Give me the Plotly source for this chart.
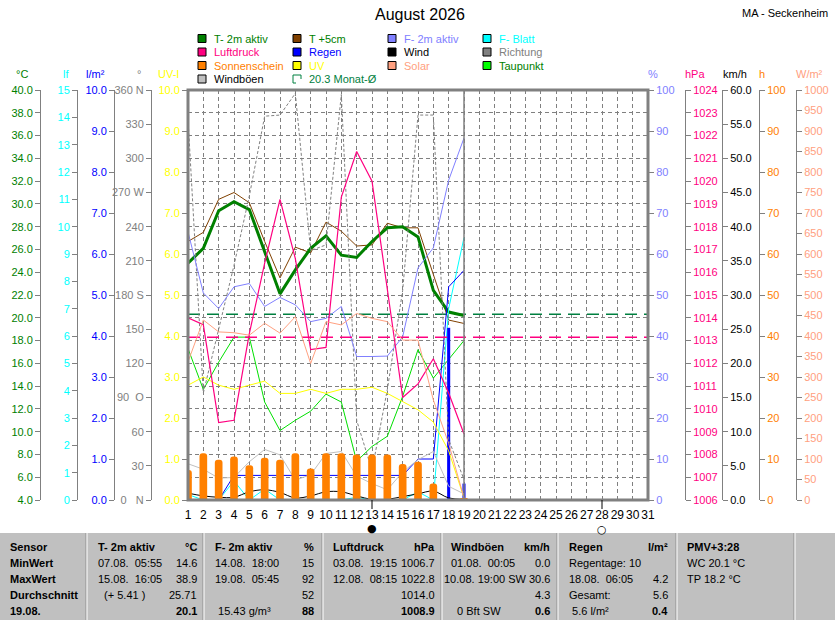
import plotly.graph_objects as go

W, H = 835, 620
def px(x): return x / W
def py(y): return 1 - y / H

FONT = "Liberation Sans, Arial, sans-serif"

# ---------------- data (days 1..19 of August 2026) ----------------
days = list(range(1, 20))
t2m = [24.8, 26.1, 29.4, 30.2, 29.5, 25.8, 22.1, 24.2, 26.1, 27.2, 25.5, 25.3, 26.7, 27.9, 28.0, 27.1, 22.4, 20.5, 20.2]
t5cm = [26.7, 27.5, 30.4, 31.0, 30.1, 26.7, 23.5, 26.2, 25.7, 28.4, 27.6, 26.3, 26.4, 28.3, 27.9, 27.9, 23.8, 19.8, 19.5]
hum = [65.4, 50.5, 46.7, 52.0, 52.8, 47.2, 49.4, 47.6, 43.5, 44.3, 47.2, 35.0, 35.0, 35.1, 39.8, 56.6, 61.5, 78.0, 88.3]
leaf = [0.2, 0.0, 0.0, 0.7, 0.0, 0.4, 0.0, 0.0, 0.0, 0.0, 0.0, 0.1, 0.0, 0.0, 0.0, 0.3, 0.0, 7.0, 9.6]
pressure = [1014.0, 1013.7, 1009.4, 1009.5, 1013.3, 1016.4, 1019.2, 1016.6, 1012.6, 1012.7, 1019.3, 1021.3, 1020.0, 1015.2, 1010.5, 1011.1, 1012.2, 1010.7, 1008.9]
rain_day = [0, 0, 0, 0.6, 0, 0, 0, 0, 0, 0, 0, 0, 0, 0, 0, 0.4, 0, 4.2, 0.4]
rain_sum = [0, 0, 0, 0.6, 0.6, 0.6, 0.6, 0.6, 0.6, 0.6, 0.6, 0.6, 0.6, 0.6, 0.6, 1.0, 1.0, 5.2, 5.6]
wind = [1.0, 0.6, 0.4, 0.4, 1.2, 1.5, 1.1, 0.3, 0.6, 1.2, 1.2, 0.6, 0.1, 0.1, 0.5, 0.9, 1.3, 0.3, 0.1]
gusts = [5.3, 4.5, 3.2, 3.3, 5.6, 7.4, 6.6, 2.9, 3.7, 6.8, 7.1, 3.5, 2.4, 1.5, 4.1, 5.9, 7.1, 2.0, 0.9]
direction = [335, 94, 150, 206, 267, 337, 338, 357, 219, 224, 356, 70, 26, 97, 184, 338, 338, 53, 18]
sunshine = [7.3, 11.4, 9.8, 10.6, 8.5, 10.3, 9.8, 11.4, 7.7, 11.4, 11.4, 11.1, 11.1, 11.1, 8.8, 9.3, 4.0, 0.0, 0.3]
uv = [2.8, 3.0, 2.8, 2.7, 2.8, 2.9, 2.6, 2.6, 2.7, 2.6, 2.7, 2.7, 2.75, 2.6, 2.4, 2.2, 1.9, 1.2, 0.05]
solar = [337, 439, 410, 408, 402, 431, 407, 447, 333, 435, 427, 455, 443, 435, 390, 390, 244, 138, 5]
dewpoint = [17.3, 13.7, 16.1, 18.3, 18.3, 12.6, 10.1, 11.0, 11.8, 13.3, 12.6, 7.4, 8.7, 9.6, 13.1, 17.2, 14.7, 16.3, 18.0]

month_mean_t = 20.3
ref_pressure = 1013.15
today = 19
new_moon_day = 13
full_moon_day = 28
x_days = list(range(1, 32))
dir_ticks = [0, 30, 60, 90, 120, 150, 180, 210, 240, 270, 300, 330, 360]
dir_labels = ["0   N", "30", "60", "90  O", "120", "150", "180 S", "210", "240", "270 W", "300", "330", "360 N"]

fig = go.Figure()

# sunshine bars (h axis)
fig.add_trace(go.Bar(x=days, y=sunshine, yaxis="y9", width=0.5,
                     marker=dict(color="#FF8000", line=dict(width=0), cornerradius=4)))
# rain daily bars
fig.add_trace(go.Bar(x=days, y=rain_day, yaxis="y3", width=0.2,
                     marker=dict(color="#0000FF", line=dict(width=0))))

def line(y, axis, color, width=1, dash=None, shape="linear"):
    fig.add_trace(go.Scatter(x=days, y=y, yaxis=axis, mode="lines",
                             line=dict(color=color, width=width, dash=dash, shape=shape)))

line(direction, "y4", "#808080", 1, "3px,2px")
line(gusts, "y8", "#C0C0C0", 1)
line(wind, "y8", "#000000", 1, None, "spline")
line(leaf, "y2", "#00FFFF", 1)
line(rain_sum, "y3", "#0000FF", 1)
line(solar, "y10", "#FFA080", 1)
line(uv, "y5", "#FFFF00", 1)
line(dewpoint, "y", "#00E000", 1)
line(hum, "y6", "#8080FF", 1)
line(pressure, "y7", "#FF0080", 1.2)
line(t5cm, "y", "#804000", 1)

# reference lines
fig.add_trace(go.Scatter(x=[x_days[0], x_days[-1]], y=[month_mean_t, month_mean_t], yaxis="y",
                         mode="lines", line=dict(color="#008040", width=1.5, dash="12px,7px")))
fig.add_trace(go.Scatter(x=[x_days[0], x_days[-1]], y=[ref_pressure, ref_pressure], yaxis="y7",
                         mode="lines", line=dict(color="#FF0080", width=1.5, dash="12px,7px")))
line(t2m, "y", "#008000", 3)

x0p, x1p = px(188), px(648)
y0p, y1p = py(500), py(90)

axes = [
    ("yaxis",   [4, 40],      2,  ".1f", "#008000", 40,  "left"),
    ("yaxis2",  [0, 15],      1,  "d",   "#00FFFF", 77,  "left"),
    ("yaxis3",  [0, 10],      1,  ".1f", "#0000FF", 114, "left"),
    ("yaxis4",  [0, 360],     30, None,  "#808080", 151, "left"),
    ("yaxis5",  [0, 10],      1,  ".1f", "#FFFF00", 187, "left"),
    ("yaxis6",  [0, 100],     10, "d",   "#8080FF", 648, "right"),
    ("yaxis7",  [1006, 1024], 1,  "d",   "#FF0080", 685, "right"),
    ("yaxis8",  [0, 60],      5,  ".1f", "#000000", 722, "right"),
    ("yaxis9",  [0, 100],     10, "d",   "#FF8000", 759, "right"),
    ("yaxis10", [0, 1000],    50, "d",   "#FFA080", 796, "right"),
]
layout_axes = {}
for name, rng, dt, fmt, col, pos, side in axes:
    a = dict(range=rng, domain=[y0p, y1p], anchor="free", position=px(pos), side=side,
             showline=True, linecolor="#808080", linewidth=1, ticks="outside", ticklen=5,
             tickcolor="#808080", tickfont=dict(family=FONT, size=11, color=col),
             zeroline=False, showgrid=False, fixedrange=True, automargin=False)
    if fmt is None:
        a.update(tickmode="array", tickvals=dir_ticks, ticktext=dir_labels)
    else:
        a.update(dtick=dt, tick0=rng[0], tickformat=fmt)
    if name != "yaxis":
        a["overlaying"] = "y"
    else:
        a.update(showgrid=True, gridcolor="#808080", griddash="4px,3px", gridwidth=1)
    layout_axes[name] = a

fig.update_layout(**layout_axes)
fig.update_layout(
    width=W, height=H, autosize=False,
    margin=dict(l=0, r=0, t=0, b=0, pad=0, autoexpand=False),
    paper_bgcolor="white", plot_bgcolor="white",
    showlegend=False, barmode="overlay",
    xaxis=dict(domain=[x0p, x1p], range=[1, 31], anchor="y", tickmode="array",
               tickvals=x_days, ticktext=[str(d) for d in x_days], ticks="",
               tickangle=0, ticklabelstandoff=6, automargin=False,
               tickfont=dict(family=FONT, size=12, color="black"),
               showgrid=True, gridcolor="#808080", griddash="4px,3px", gridwidth=1,
               zeroline=False, showline=False, fixedrange=True),
)

shapes = []
ann = []
# plot border
shapes.append(dict(type="rect", xref="x domain", yref="y domain", x0=0, x1=1, y0=0, y1=1,
                   line=dict(color="#808080", width=3), layer="above"))
# today line
shapes.append(dict(type="line", xref="x", yref="y domain", x0=today, x1=today, y0=0, y1=1,
                   line=dict(color="#808080", width=1.5)))
# moon phases
for d, sym, sz, yy in [(new_moon_day, "●", 11, 528), (full_moon_day, "○", 11, 529)]:
    shapes.append(dict(type="line", xref="x", yref="paper", x0=d, x1=d, y0=py(500), y1=py(509),
                       line=dict(color="black", width=1)))
    ann.append(dict(xref="x", yref="paper", x=d, y=py(yy), text=sym, showarrow=False,
                    font=dict(family="DejaVu Sans", size=sz, color="black"),
                    xanchor="center", yanchor="middle"))

# axis titles
titles = [("°C", 22, "#008000"), ("lf", 66, "#00FFFF"), ("l/m²", 95, "#0000FF"),
          ("°", 139, "#808080"), ("UV-I", 168, "#FFFF00"), ("%", 653, "#8080FF"),
          ("hPa", 695, "#FF0080"), ("km/h", 735, "#000000"), ("h", 762, "#FF8000"),
          ("W/m²", 809, "#FFA080")]
for t, x, c in titles:
    ann.append(dict(xref="paper", yref="paper", x=px(x), y=py(74), text=t, showarrow=False,
                    xanchor="center", yanchor="middle", font=dict(family=FONT, size=11, color=c)))

# title texts
ann.append(dict(xref="paper", yref="paper", x=px(420), y=py(15), text="August 2026", showarrow=False,
                xanchor="center", yanchor="middle", font=dict(family=FONT, size=16, color="black")))
ann.append(dict(xref="paper", yref="paper", x=px(830), y=py(13), text="MA - Seckenheim", showarrow=False,
                xanchor="right", yanchor="middle", font=dict(family=FONT, size=11, color="black")))

# legend
legend_items = [
    (0, 0, "T- 2m aktiv", "#008000", "#008000"),
    (1, 0, "T +5cm", "#804000", "#008000"),
    (2, 0, "F- 2m aktiv", "#8080FF", "#8080FF"),
    (3, 0, "F- Blatt", "#00FFFF", "#00FFFF"),
    (0, 1, "Luftdruck", "#FF0080", "#FF0080"),
    (1, 1, "Regen", "#0000FF", "#0000FF"),
    (2, 1, "Wind", "#000000", "#000000"),
    (3, 1, "Richtung", "#808080", "#808080"),
    (0, 2, "Sonnenschein", "#FF8000", "#FF8000"),
    (1, 2, "UV", "#FFFF00", "#FFFF00"),
    (2, 2, "Solar", "#FFA080", "#FFA080"),
    (3, 2, "Taupunkt", "#00FF00", "#008000"),
    (0, 3, "Windböen", "#C0C0C0", "#000000"),
]
col_x = [198, 293, 388, 483]
row_y = [38.5, 52, 65.5, 79]
for c, r, lab, sw, tc in legend_items:
    x, y = col_x[c], row_y[r]
    shapes.append(dict(type="rect", xref="paper", yref="paper", x0=px(x), x1=px(x + 8),
                       y0=py(y + 4), y1=py(y - 4), fillcolor=sw, line=dict(color="black", width=1)))
    ann.append(dict(xref="paper", yref="paper", x=px(x + 14), y=py(y), text=lab, showarrow=False,
                    xanchor="left", yanchor="middle", font=dict(family=FONT, size=11, color=tc)))
# monthly mean legend entry
x, y = col_x[1], row_y[3]
shapes.append(dict(type="path", xref="paper", yref="paper",
                   path=f"M {px(x)},{py(y+4)} L {px(x)},{py(y-4)} L {px(x+8)},{py(y-4)} L {px(x+8)},{py(y)}",
                   line=dict(color="#008040", width=1)))
shapes.append(dict(type="line", xref="paper", yref="paper", x0=px(x), x1=px(x + 3), y0=py(y + 4), y1=py(y + 4),
                   line=dict(color="#008040", width=1)))
ann.append(dict(xref="paper", yref="paper", x=px(x + 14), y=py(y), text=f"{month_mean_t:.1f} Monat-Ø",
                showarrow=False, xanchor="left", yanchor="middle",
                font=dict(family=FONT, size=11, color="#008040")))

# ---------------- bottom table ----------------
shapes.append(dict(type="rect", xref="paper", yref="paper", x0=0, x1=1, y0=0, y1=py(533),
                   fillcolor="#C0C0C0", line=dict(width=0), layer="below"))
for sx in [87, 204, 323, 442, 558, 677, 795]:
    shapes.append(dict(type="line", xref="paper", yref="paper", x0=px(sx - 1), x1=px(sx - 1), y0=0, y1=py(533),
                       line=dict(color="#909090", width=1)))
    shapes.append(dict(type="line", xref="paper", yref="paper", x0=px(sx), x1=px(sx), y0=0, y1=py(533),
                       line=dict(color="#FFFFFF", width=1)))

rows_y = [547, 563, 579, 595, 611]
row_names = ["Sensor", "MinWert", "MaxWert", "Durchschnitt", "19.08."]
table_cols = [
    (96, 199, "T- 2m aktiv", "°C", [("07.08.  05:55", "14.6"), ("15.08.  16:05", "38.9"), ("  (+ 5.41 )", "25.71"), ("", "20.1")]),
    (213, 316, "F- 2m aktiv", "%", [("14.08.  18:00", "15"), ("19.08.  05:45", "92"), ("", "52"), (" 15.43 g/m³", "88")]),
    (331, 437, "Luftdruck", "hPa", [("03.08.  19:15", "1006.7"), ("12.08.  08:15", "1022.8"), ("", "1014.0"), ("", "1008.9")]),
    (449, 552, "Windböen", "km/h", [("01.08.  00:05", "0.0"), ("", "10.08. 19:00 SW 30.6"), ("", "4.3"), ("  0 Bft SW", "0.6")]),
    (567, 670, "Regen", "l/m²", [("Regentage: 10", ""), ("18.08.  06:05", "4.2"), ("Gesamt:", "5.6"), (" 5.6 l/m²", "0.4")]),
]

def txt(x, y, s, anchor="left", bold=False):
    if not s:
        return
    ann.append(dict(xref="paper", yref="paper", x=px(x), y=py(y), text=f"<b>{s}</b>" if bold else s,
                    showarrow=False, xanchor=anchor, yanchor="middle",
                    font=dict(family=FONT, size=11, color="black")))

for name, y in zip(row_names, rows_y):
    txt(8, y, name, bold=True)
for lx, rx, head, unit, vals in table_cols:
    txt(lx, rows_y[0], head, bold=True)
    txt(rx, rows_y[0], unit, "right", bold=True)
    for i, (l, r) in enumerate(vals):
        txt(lx, rows_y[i + 1], l)
        txt(rx, rows_y[i + 1], r, "right", bold=(i == 3))
txt(685, rows_y[0], "PMV+3:28", bold=True)
txt(685, rows_y[1], "WC 20.1 °C")
txt(685, rows_y[2], "TP 18.2 °C")

fig.update_layout(shapes=shapes, annotations=ann)
fig.write_html("out.html", config={"displayModeBar": False},
               post_script="document.body.style.margin='0px';")
